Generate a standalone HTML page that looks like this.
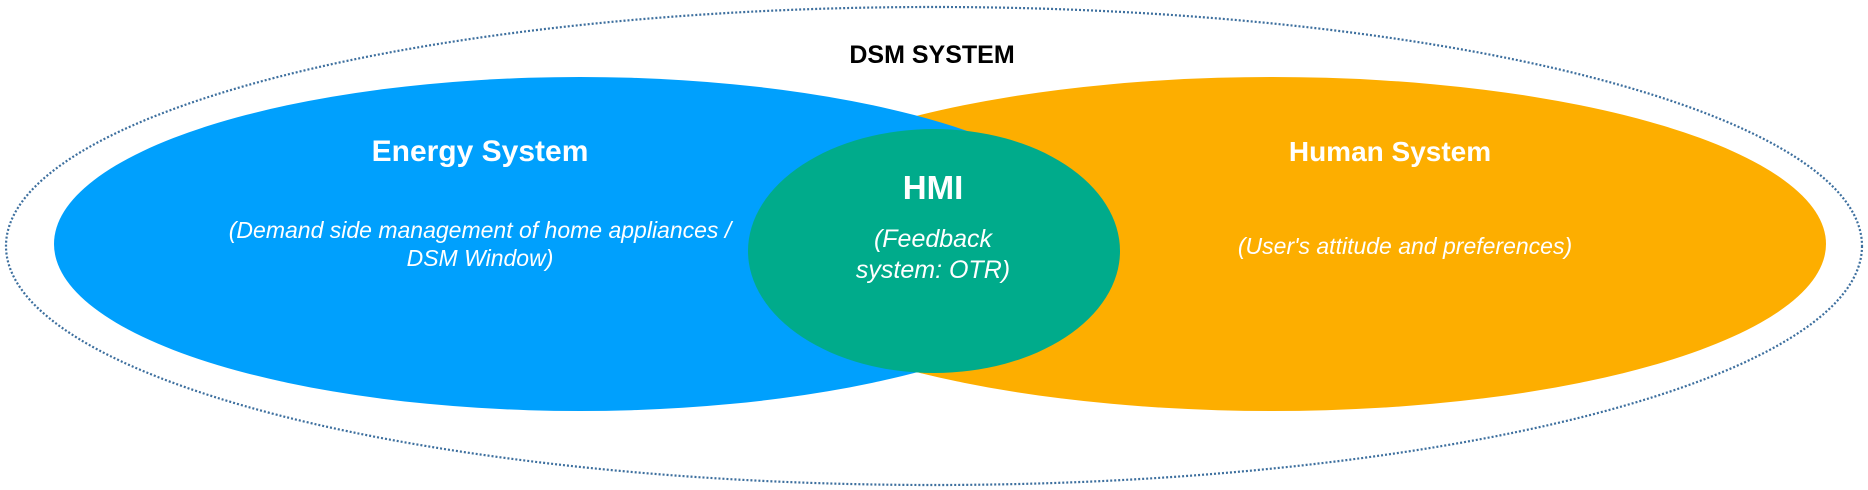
<!DOCTYPE html>
<html><head><meta charset="utf-8"><style>
html,body{margin:0;padding:0;background:#fff;}
svg{display:block;}
text{font-family:"Liberation Sans",Arial,sans-serif;fill:#fff;}
</style></head><body>
<svg width="1868" height="490" viewBox="0 0 1868 490" xmlns="http://www.w3.org/2000/svg">
<ellipse cx="934" cy="246" rx="928" ry="239" fill="none" stroke="#3d6f9e" stroke-width="2.2" stroke-dasharray="2 2"/>
<ellipse cx="1272" cy="244" rx="554" ry="167" fill="#fdae00"/>
<ellipse cx="580" cy="244" rx="526" ry="167" fill="#00a0fd"/>
<ellipse cx="934" cy="251" rx="186" ry="122" fill="#00ab8b"/>
<text x="932" y="63" text-anchor="middle" font-size="25" font-weight="bold" style="fill:#000">DSM SYSTEM</text>
<text x="480" y="161" text-anchor="middle" font-size="30" font-weight="bold">Energy System</text>
<text x="480" y="238" text-anchor="middle" font-size="23" font-style="italic">(Demand side management of home appliances /</text>
<text x="480" y="266" text-anchor="middle" font-size="23" font-style="italic">DSM Window)</text>
<text x="1390" y="161" text-anchor="middle" font-size="28" font-weight="bold">Human System</text>
<text x="1405" y="254" text-anchor="middle" font-size="23" font-style="italic">(User's attitude and preferences)</text>
<text x="933" y="199" text-anchor="middle" font-size="33" font-weight="bold">HMI</text>
<text x="933" y="247" text-anchor="middle" font-size="25" font-style="italic">(Feedback</text>
<text x="933" y="278" text-anchor="middle" font-size="25" font-style="italic">system: OTR)</text>
</svg>
</body></html>
